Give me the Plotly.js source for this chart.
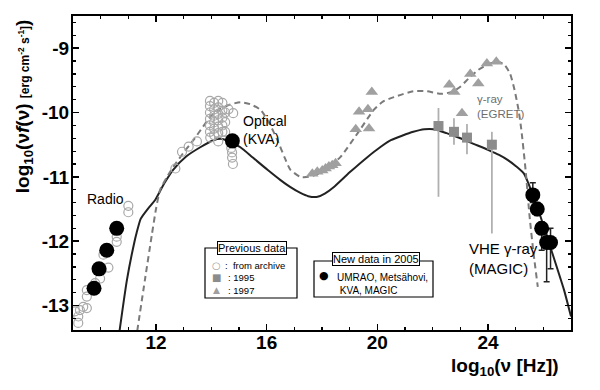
<!DOCTYPE html>
<html><head><meta charset="utf-8">
<script src="https://cdn.plot.ly/plotly-3.0.1.min.js"></script>
<style>body{margin:0;background:#fff}#c{width:600px;height:390px}</style>
</head><body><div id="c"></div>
<script>
// Model curves
const solidX=[10.68,10.95,11.2,11.3,11.45,11.7,11.97,12.3,12.62,13.1,13.6,14.07,14.4,14.65,15.05,15.5,16.03,16.5,16.86,17.22,17.5,17.84,18.1,18.42,19.0,19.65,20.1,20.49,21.3,21.7,22.04,22.5,23.0,23.5,24.0,24.4,24.72,25.0,25.3,25.62,25.9,26.2,26.5,26.75,27.0];
const solidY=[-13.4,-12.6,-12.05,-11.87,-11.65,-11.5,-11.36,-11.1,-10.89,-10.68,-10.54,-10.43,-10.41,-10.45,-10.54,-10.7,-10.89,-11.05,-11.16,-11.25,-11.3,-11.31,-11.26,-11.16,-10.93,-10.69,-10.54,-10.43,-10.3,-10.26,-10.26,-10.32,-10.4,-10.49,-10.58,-10.66,-10.74,-10.83,-10.95,-11.28,-11.62,-12.02,-12.42,-12.76,-13.17];
const dashX=[11.32,11.6,11.85,12.0,12.15,12.4,12.62,13.0,13.35,13.7,13.96,14.3,14.58,15.05,15.4,15.78,16.1,16.39,16.65,16.86,17.22,17.5,17.95,18.3,18.67,19.29,19.87,20.2,20.6,21.3,21.8,22.3,22.7,23.0,23.3,23.64,24.0,24.36,24.6,24.8,24.96,25.1,25.2,25.36,25.5,25.65,25.8];
const dashY=[-13.4,-12.6,-11.9,-11.5,-11.2,-11.0,-10.85,-10.62,-10.43,-10.22,-10.07,-9.95,-9.89,-9.84,-9.87,-9.96,-10.17,-10.43,-10.7,-10.89,-11.0,-11.0,-10.94,-10.83,-10.69,-10.32,-9.96,-9.83,-9.76,-9.67,-9.67,-9.71,-9.68,-9.6,-9.47,-9.34,-9.25,-9.21,-9.26,-9.4,-9.65,-9.95,-10.25,-10.9,-11.6,-12.2,-12.71];
// Archive data (open circles)
const archX=[11.0,11.0,10.58,10.58,10.1,10.28,9.98,10.04,9.8,9.74,9.5,9.5,9.37,9.25,9.5,9.19,9.19,9.07,
 12.7,12.94,13.18,13.48,13.96,
 13.95,13.95,13.95,13.95,13.95,13.95,14.1,14.1,14.1,14.1,14.1,14.1,14.25,14.25,14.25,14.25,14.25,14.25,14.25,14.4,14.4,14.4,14.4,14.4,14.5,14.5,14.5,
 14.79,14.62,14.72,14.75,14.75,14.78];
const archY=[-11.45,-11.55,-12.01,-11.93,-12.21,-12.41,-12.58,-12.45,-12.65,-12.76,-12.76,-12.86,-13.02,-13.07,-13.04,-13.17,-13.27,-13.09,
 -10.87,-10.61,-10.53,-10.45,-10.39,
 -9.82,-9.9,-10.0,-10.1,-10.2,-10.3,-9.85,-9.95,-10.05,-10.15,-10.25,-10.35,-9.82,-9.92,-10.02,-10.12,-10.22,-10.32,-10.45,-9.85,-9.97,-10.08,-10.2,-10.3,-10.0,-10.15,-10.3,
 -10.01,-9.95,-10.55,-10.62,-10.7,-10.8];
// 1995 (squares)
const sqX=[22.21,22.77,23.24,24.14];
const sqY=[-10.21,-10.3,-10.39,-10.5];
const sqErrUp=[0.28,0.21,0.21,0.2];
const sqErrDn=[1.1,0.2,0.26,1.38];
// 1997 (triangles)
const triX=[17.65,17.83,18.01,18.13,18.25,18.37,18.49,19.22,19.7,19.34,19.66,19.8,22.6,22.78,23.06,23.36,23.65,23.96,24.3];
const triY=[-10.95,-10.92,-10.9,-10.87,-10.84,-10.82,-10.79,-10.26,-10.25,-9.99,-9.95,-9.68,-9.57,-9.68,-10.01,-9.4,-9.55,-9.24,-9.21];
// New data 2005 (filled circles)
const newX=[9.76,9.94,10.22,10.58,14.76,25.62,25.78,25.94,26.12,26.26];
const newY=[-12.73,-12.43,-12.14,-11.8,-10.44,-11.28,-11.5,-11.8,-12.02,-12.02];
const newErrUp=[0,0,0,0,0,0.19,0.1,0.1,0.2,0.22];
const newErrDn=[0,0,0,0,0,0.12,0.1,0.34,0.61,0.41];
// Ticks
const xTickVals=[12,16,20,24];
const xTickText=['12','16','20','24'];
const yTickVals=[-13,-12,-11,-10,-9];
const yTickText=['-13','-12','-11','-10','-9'];

const F='Liberation Sans, Arial, sans-serif';
const px=v=>(v-73)/498, py=v=>(330-v)/314;
const traces=[
 {x:solidX,y:solidY,mode:'lines',line:{color:'#222',width:2,shape:'spline',smoothing:0.6},hoverinfo:'skip'},
 {x:dashX,y:dashY,mode:'lines',line:{color:'#7a7a7a',width:2,dash:'6px,4px',shape:'spline',smoothing:0.6},hoverinfo:'skip'},
 {x:archX,y:archY,mode:'markers',marker:{symbol:'circle-open',size:9,color:'#a8a8a8',line:{width:1.2,color:'#a8a8a8'}}},
 {x:sqX,y:sqY,mode:'markers',marker:{symbol:'square',size:10,color:'#8c8c8c'},
  error_y:{type:'data',symmetric:false,array:sqErrUp,arrayminus:sqErrDn,color:'#b0b0b0',thickness:1.8,width:0}},
 {x:triX,y:triY,mode:'markers',marker:{symbol:'triangle-up',size:11,color:'#a0a0a0'}},
 {x:newX,y:newY,mode:'markers',marker:{symbol:'circle',size:15,color:'#000'},
  error_y:{type:'data',symmetric:false,array:newErrUp,arrayminus:newErrDn,color:'#222',thickness:1.5,width:3}}
];
const ax={showgrid:false,zeroline:false,showline:true,linecolor:'#000',linewidth:2,mirror:'ticks',ticks:'inside',ticklen:6,tickwidth:1.5,tickcolor:'#000',
 tickfont:{family:F,size:19,color:'#000',weight:'bold'},minor:{ticks:'inside',ticklen:3,tickwidth:1.2,tickcolor:'#000'}};
const layout={width:600,height:390,margin:{l:73,r:29,t:16,b:60},paper_bgcolor:'#fff',plot_bgcolor:'#fff',showlegend:false,
 xaxis:Object.assign({},ax,{range:[9,27],tickmode:'array',tickvals:xTickVals,ticktext:xTickText,minor:Object.assign({},ax.minor,{dtick:1,tick0:0}),ticklabelstandoff:-6}),
 yaxis:Object.assign({},ax,{range:[-13.38,-8.5],tickmode:'array',tickvals:yTickVals,ticktext:yTickText,minor:Object.assign({},ax.minor,{dtick:0.2,tick0:0}),ticklabelstandoff:-2}),
 shapes:[
  {type:'rect',xref:'paper',yref:'paper',x0:px(205),x1:px(297),y0:py(298),y1:py(248),line:{color:'#000',width:1.2},fillcolor:'#fff',layer:'above'},
  {type:'rect',xref:'paper',yref:'paper',x0:px(314),x1:px(433),y0:py(297),y1:py(261),line:{color:'#000',width:1.2},fillcolor:'#fff',layer:'above'}
 ],
 annotations:[
  {xref:'paper',yref:'paper',x:-0.098,y:py(106),textangle:-90,showarrow:false,xanchor:'center',yanchor:'middle',
   text:'<b>log<sub>10</sub>(ν<i>f</i>(ν) <span style="font-size:12px">[erg cm<sup>-2</sup> s<sup>-1</sup>]</span>)</b>',font:{family:F,size:19,color:'#000'}},
  {xref:'paper',yref:'paper',x:px(505),y:py(367),showarrow:false,xanchor:'center',yanchor:'middle',
   text:'<b>log<sub>10</sub>(ν [Hz])</b>',font:{family:F,size:19,color:'#000'}},
  {xref:'paper',yref:'paper',x:px(85),y:py(199),showarrow:false,xanchor:'left',yanchor:'middle',text:'Radio',font:{family:F,size:14,color:'#000'}},
  {xref:'paper',yref:'paper',x:px(241),y:py(130),showarrow:false,xanchor:'left',yanchor:'middle',align:'left',text:'Optical<br>(KVA)',font:{family:F,size:14,color:'#000'}},
  {xref:'paper',yref:'paper',x:px(475),y:py(106),showarrow:false,xanchor:'left',yanchor:'middle',align:'left',text:'γ-ray<br>(EGRET)',font:{family:F,size:11.5,color:'#6e6e6e'}},
  {xref:'paper',yref:'paper',x:px(467),y:py(258),showarrow:false,xanchor:'left',yanchor:'middle',align:'left',text:'VHE γ-ray<br>(MAGIC)',font:{family:F,size:15,color:'#000'}},
  {xref:'paper',yref:'paper',x:px(252),y:py(248),showarrow:false,xanchor:'center',yanchor:'middle',text:'Previous data',bgcolor:'#fff',bordercolor:'#000',borderwidth:1,borderpad:0,font:{family:F,size:11,color:'#000'}},
  {xref:'paper',yref:'paper',x:px(216),y:py(265),showarrow:false,xanchor:'center',yanchor:'middle',text:'○',font:{family:'DejaVu Sans',size:10,color:'#a0a0a0'}},
  {xref:'paper',yref:'paper',x:px(216),y:py(277),showarrow:false,xanchor:'center',yanchor:'middle',text:'■',font:{family:'DejaVu Sans',size:10,color:'#8c8c8c'}},
  {xref:'paper',yref:'paper',x:px(216),y:py(290),showarrow:false,xanchor:'center',yanchor:'middle',text:'▲',font:{family:'DejaVu Sans',size:9,color:'#a0a0a0'}},
  {xref:'paper',yref:'paper',x:px(223),y:py(265),showarrow:false,xanchor:'left',yanchor:'middle',text:':  from archive',font:{family:F,size:9.5,color:'#000'}},
  {xref:'paper',yref:'paper',x:px(226),y:py(277),showarrow:false,xanchor:'left',yanchor:'middle',text:': 1995',font:{family:F,size:9.5,color:'#000'}},
  {xref:'paper',yref:'paper',x:px(226),y:py(290),showarrow:false,xanchor:'left',yanchor:'middle',text:': 1997',font:{family:F,size:9.5,color:'#000'}},
  {xref:'paper',yref:'paper',x:px(376),y:py(259),showarrow:false,xanchor:'center',yanchor:'middle',text:'New data in 2005',bgcolor:'#fff',bordercolor:'#000',borderwidth:1,borderpad:0,font:{family:F,size:11,color:'#000'}},
  {xref:'paper',yref:'paper',x:px(324),y:py(275),showarrow:false,xanchor:'center',yanchor:'middle',text:'●',font:{family:'DejaVu Sans',size:11,color:'#000'}},
  {xref:'paper',yref:'paper',x:px(335),y:py(284),showarrow:false,xanchor:'left',yanchor:'middle',align:'left',text:'UMRAO, Metsähovi,<br>&nbsp;KVA, MAGIC',font:{family:F,size:10,color:'#000'}}
 ]
};
Plotly.newPlot('c',traces,layout,{staticPlot:true});
</script></body></html>
